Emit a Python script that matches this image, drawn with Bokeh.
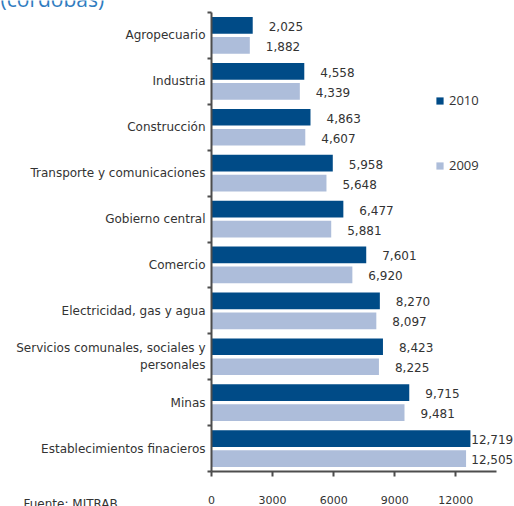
from bokeh.plotting import figure
from bokeh.models import ColumnDataSource, Range1d, FixedTicker, Label, Legend, LegendItem
from bokeh.core.properties import value
from bokeh.embed import file_html
from bokeh.resources import INLINE
import numpy as np

categories = ["Agropecuario", "Industria", "Construcción", "Transporte y comunicaciones",
              "Gobierno central", "Comercio", "Electricidad, gas y agua",
              "Servicios comunales, sociales y\npersonales", "Minas", "Establecimientos finacieros"]
v2010 = [2025, 4558, 4863, 5958, 6477, 7601, 8270, 8423, 9715, 12719]
v2009 = [1882, 4339, 4607, 5648, 5881, 6920, 8097, 8225, 9481, 12505]
x_ticks = [0, 3000, 6000, 9000, 12000]

C2010 = "#004b87"
C2009 = "#adbdda"
TXT = "#333333"
FONT = "DejaVu Sans"

W, H = 514, 506
n = len(categories)
pos = np.array([n - i - 0.5 for i in range(n)])
off = 0.218
bh = 0.364

AX_MAX = 14000
PPU = 61.07 / 3000          # px per unit along x
LEFT_PX = 211               # x = 0 position
BOTTOM_PX = 35              # y = 0 distance from canvas bottom
TOP_PX = 12                 # y = n distance from canvas top
CAT_PX = (H - BOTTOM_PX - TOP_PX) / n
limit = 12760

def offsets(vals):
    return [min(16, (limit - v) * PPU) for v in vals]

src10 = ColumnDataSource(dict(y=pos + off, v=v2010, t=[f"{v:,}" for v in v2010], xo=offsets(v2010)))
src09 = ColumnDataSource(dict(y=pos - off, v=v2009, t=[f"{v:,}" for v in v2009], xo=offsets(v2009)))

x_range = Range1d(-LEFT_PX / PPU, (W - LEFT_PX) / PPU)
y_range = Range1d(-BOTTOM_PX / CAT_PX, n + TOP_PX / CAT_PX)

p = figure(width=W, height=H, output_backend="svg", toolbar_location=None,
           x_range=x_range, y_range=y_range)
p.min_border_left = 0
p.min_border_right = 0
p.min_border_top = 0
p.min_border_bottom = 0
p.outline_line_color = None
p.grid.visible = False
p.background_fill_color = "white"

r10 = p.hbar(y="y", right="v", left=0, height=bh, source=src10, color=C2010, line_color=None)
r09 = p.hbar(y="y", right="v", left=0, height=bh, source=src09, color=C2009, line_color=None)

for s in (src10, src09):
    p.text(x="v", y="y", text="t", source=s, x_offset="xo", y_offset=1,
           text_align="left", text_baseline="middle",
           text_font=value(FONT), text_font_size="12px", text_color=TXT)

# y axis
ya = p.yaxis[0]
ya.fixed_location = 0
ya.bounds = (0, n)
ya.ticker = FixedTicker(ticks=list(pos), minor_ticks=list(range(n + 1)))
ya.major_label_overrides = {float(y): c for y, c in zip(pos, categories)}
ya.major_tick_line_color = None
ya.major_tick_out = 0
ya.major_tick_in = 0
ya.minor_tick_out = 4
ya.minor_tick_in = 0
ya.minor_tick_line_color = "#4d4d4d"
ya.minor_tick_line_width = 2
ya.axis_line_color = "#4d4d4d"
ya.axis_line_width = 2
ya.major_label_standoff = 2
ya.major_label_text_font = FONT
ya.major_label_text_font_size = "12px"
ya.major_label_text_color = TXT

# x axis
xa = p.xaxis[0]
xa.fixed_location = 0
xa.bounds = (0, AX_MAX)
xa.ticker = FixedTicker(ticks=x_ticks, minor_ticks=[])
xa.axis_line_color = "#4d4d4d"
xa.axis_line_width = 2
xa.major_tick_line_color = "#4d4d4d"
xa.major_tick_line_width = 2
xa.major_tick_out = 5
xa.major_tick_in = 0
xa.major_label_standoff = 19
xa.major_label_text_font = FONT
xa.major_label_text_font_size = "11px"
xa.major_label_text_color = TXT

legend = Legend(items=[LegendItem(label="2010", renderers=[r10]),
                       LegendItem(label="2009", renderers=[r09])],
                location=(435, 332), orientation="vertical")
legend.padding = 0
legend.margin = 0
legend.spacing = 47
legend.glyph_width = 9
legend.glyph_height = 9
legend.label_height = 9
legend.label_standoff = 5
legend.border_line_color = None
legend.background_fill_alpha = 0
legend.label_text_font = "Open Sans"
legend.label_text_font_size = "13px"
legend.label_text_color = TXT
p.add_layout(legend)

title = Label(x=0, y=H + 2, x_units="screen", y_units="screen", text="(córdobas)",
              text_font="Open Sans", text_font_size="21px", text_color="#2f7cc0",
              text_baseline="alphabetic")
p.add_layout(title)
foot = Label(x=23, y=3, x_units="screen", y_units="screen", text="Fuente: MITRAB",
             text_font=FONT, text_font_size="12px", text_color=TXT, text_baseline="alphabetic")
p.add_layout(foot)

open("out.html", "w").write(file_html(p, INLINE))
